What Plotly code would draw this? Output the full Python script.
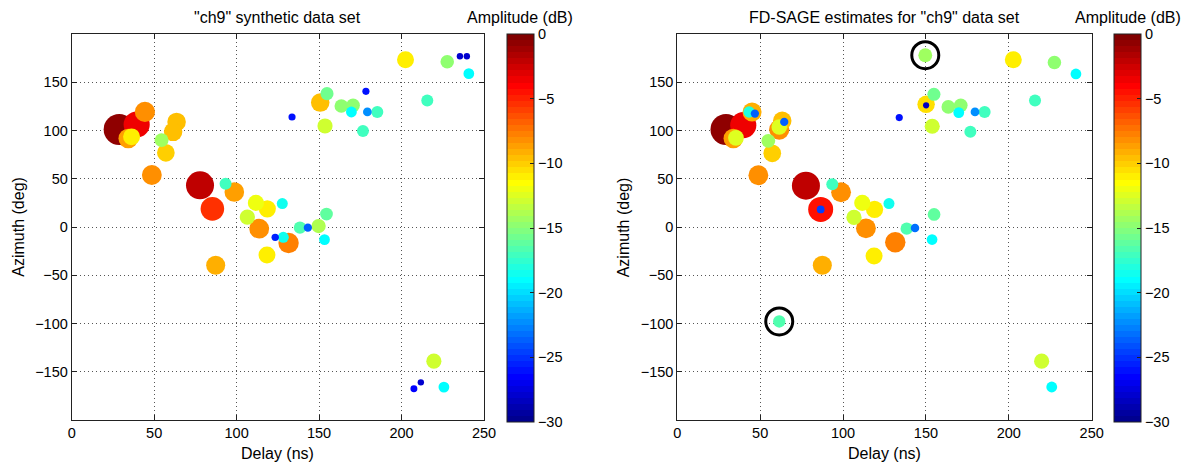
import numpy as np
import plotly.graph_objects as go

# ---------------- data ----------------
# "ch9" synthetic data set
syn_delay = [28.8, 39.4, 34.3, 36.3, 44.4, 63.6, 61.5, 54.5, 57.1, 48.6,
             77.8, 93.3, 98.6, 85.3, 111.7, 118.6, 127.7, 154.5, 106.5, 113.7,
             138.4, 143.2, 149.7, 123.4, 128.3, 131.5, 153.3, 118.4, 87.3, 219.6,
             211.7, 207.5, 225.7, 202.4, 227.7, 235.4, 239.6, 240.8, 215.6, 178.4,
             154.8, 150.7, 163.5, 170.6, 169.6, 179.3, 185.3, 133.6, 153.6, 176.6]
syn_az = [101, 106.2, 91.7, 93.4, 119.2, 108.9, 98.6, 90, 76.9, 53.9,
          43.2, 44.9, 36.3, 18.8, 25, 18.8, 24.3, 13.4, 10.3, -1.7,
          -0.7, -0.7, 1, -10.7, -10.7, -16.6, -13.1, -29, -39.7, -139,
          -161, -167.6, -165.9, 173.3, 171.2, 177, 177, 158.9, 131.2, 140.6,
          138.2, 128.9, 125.4, 126.1, 119.2, 119.2, 119.2, 114, 104.7, 99.6]
syn_amp = [-0.5, -3.5, -8.5, -11, -8, -9.5, -9.5, -14.5, -10.3, -8.3,
           -2.3, -17, -8.5, -5.3, -11.8, -10.8, -18.5, -16, -12.8, -8.3,
           -16.5, -23.5, -14, -25.5, -18.5, -7.8, -19, -11, -9, -13,
           -28, -26.5, -18.8, -11, -15, -28, -28, -19, -17, -26,
           -15.5, -9.5, -14.8, -14.8, -18.8, -22.5, -17, -26, -13, -17]

# FD-SAGE estimates
est_delay = [29.4, 39.8, 33.8, 35.4, 45.1, 43.3, 46.8, 63.3, 61.5, 61.5,
             64.5, 54.9, 57.3, 48.9, 77.6, 93.5, 98.8, 86.5, 86.5, 111.6,
             119, 127.7, 106.6, 113.8, 138.4, 143.4, 154.9, 153.7, 131.5, 118.7,
             87.5, 61.5, 219.8, 225.9, 202.7, 227.5, 240.5, 215.8, 149.6, 154.8,
             150.1, 150.1, 163.5, 171, 169.8, 179.6, 185.4, 133.9, 153.8, 176.8]
est_az = [101, 105.5, 91.7, 92.4, 119.2, 119.2, 117.5, 110, 101, 103.7,
          108.9, 89.3, 76.3, 53.6, 42.8, 44.2, 36, 18.2, 18.2, 25,
          18.2, 24.3, 9.9, -1.4, -1.7, -1, 13, -13, -15.8, -30.1,
          -39.7, -97.9, -139, -165.8, 173.3, 170.5, 158.6, 131.2, 178, 137.5,
          127.1, 126.1, 124.4, 126.1, 118.6, 119.2, 119.2, 113.4, 104.4, 98.6]
est_amp = [-0.5, -3.5, -8.5, -12.3, -9, -18, -23.5, -9.5, -8, -12.5,
           -23.5, -14.5, -10.3, -8.3, -2.3, -17, -8.3, -4.3, -24.5, -11.8,
           -10.8, -18.5, -12.8, -8.3, -16.5, -23, -16, -19, -7.8, -11,
           -9, -16.5, -13, -18.8, -11, -15, -19, -17, -14.5, -15.5,
           -10.5, -28.5, -14.8, -14.8, -18.8, -22.5, -17, -26, -13, -17]

# indices of estimates highlighted with black rings
circled_idx = [38, 31]

x_ticks = [0, 50, 100, 150, 200, 250]
y_ticks = [-150, -100, -50, 0, 50, 100, 150]
cb_ticks = [0, -5, -10, -15, -20, -25, -30]

titles = ['"ch9" synthetic data set', 'FD-SAGE estimates for "ch9" data set']
x_label = "Delay (ns)"
y_label = "Azimuth (deg)"
cb_label = "Amplitude (dB)"

# ---------------- style helpers ----------------
W, H = 1192, 468
FONT = "Liberation Sans, Arial, sans-serif"


def matlab_jet(m=64):
    n = int(np.ceil(m / 4))
    u = np.concatenate([np.arange(1, n + 1) / n, np.ones(n - 1), np.arange(n, 0, -1) / n])
    g = int(np.ceil(n / 2)) - (1 if m % 4 == 1 else 0) + np.arange(1, len(u) + 1)
    r = g + n
    b = g - n
    J = np.zeros((m, 3))
    for idx, val in zip(r, u):
        if idx <= m:
            J[idx - 1, 0] = val
    for idx, val in zip(g, u):
        if 1 <= idx <= m:
            J[idx - 1, 1] = val
    for idx, val in zip(b, u):
        if idx >= 1:
            J[idx - 1, 2] = val
    return J


J = matlab_jet(64)
jet_scale = []
for k in range(64):
    c = "rgb(%d,%d,%d)" % tuple(int(round(v * 255)) for v in J[k])
    jet_scale.append([k / 64, c])
    jet_scale.append([(k + 1) / 64, c])


def size_of(a):
    return [32 * 10 ** (v / 40) for v in a]


def ordered(d, az, amp):
    order = np.argsort(-np.array(amp), kind="stable")
    return ([d[i] for i in order], [az[i] for i in order], [amp[i] for i in order])


def px2x(px):
    return px / W


def px2y(py):
    return (H - py) / H


fig = go.Figure()

d, a, m = ordered(syn_delay, syn_az, syn_amp)
fig.add_trace(go.Scatter(x=d, y=a, mode="markers", xaxis="x", yaxis="y",
                         marker=dict(size=size_of(m), color=m, coloraxis="coloraxis",
                                     line=dict(width=0), opacity=1),
                         showlegend=False, hoverinfo="x+y"))

d, a, m = ordered(est_delay, est_az, est_amp)
fig.add_trace(go.Scatter(x=d, y=a, mode="markers", xaxis="x2", yaxis="y2",
                         marker=dict(size=size_of(m), color=m, coloraxis="coloraxis2",
                                     line=dict(width=0), opacity=1),
                         showlegend=False, hoverinfo="x+y"))

fig.add_trace(go.Scatter(x=[est_delay[i] for i in circled_idx],
                         y=[est_az[i] for i in circled_idx],
                         mode="markers", xaxis="x2", yaxis="y2",
                         marker=dict(symbol="circle-open", size=27, color="black",
                                     line=dict(width=3, color="black")),
                         showlegend=False, hoverinfo="skip"))

y_dom = [px2y(420), px2y(34)]
left_dom = [px2x(71.7), px2x(484)]
right_dom = [px2x(677.3), px2x(1091.7)]

axis_common = dict(showline=True, linecolor="#222", linewidth=1, mirror="ticks",
                   ticks="inside", ticklen=5, tickcolor="#222", tickwidth=1,
                   showgrid=True, gridcolor="#555", gridwidth=1, griddash="1px,3px",
                   zeroline=False, automargin=False,
                   tickfont=dict(family=FONT, size=14.5, color="black"))

x_common = dict(axis_common, range=[0, 250], tickvals=x_ticks)
y_common = dict(axis_common, range=[-200, 200], tickvals=y_ticks)

cb_common = dict(thickness=27.3, thicknessmode="pixels", len=388 / H, lenmode="fraction",
                 y=px2y(228), yanchor="middle", xanchor="left", xpad=0, ypad=0,
                 outlinewidth=1, outlinecolor="#222", ticks="inside", ticklen=4,
                 tickcolor="#222", tickvals=cb_ticks,
                 tickfont=dict(family=FONT, size=14.5, color="black"))

fig.update_layout(
    width=W, height=H, template="none",
    paper_bgcolor="white", plot_bgcolor="white",
    margin=dict(l=0, r=0, t=0, b=0, pad=0),
    font=dict(family=FONT, size=14.5, color="black"),
    xaxis=dict(x_common, domain=left_dom, anchor="y"),
    yaxis=dict(y_common, domain=y_dom, anchor="x"),
    xaxis2=dict(x_common, domain=right_dom, anchor="y2"),
    yaxis2=dict(y_common, domain=y_dom, anchor="x2"),
    coloraxis=dict(colorscale=jet_scale, cmin=-30, cmax=0,
                   colorbar=dict(cb_common, x=px2x(506.7))),
    coloraxis2=dict(colorscale=jet_scale, cmin=-30, cmax=0,
                    colorbar=dict(cb_common, x=px2x(1114))),
    showlegend=False,
)

ann = []
text_font = dict(family=FONT, size=16, color="black")
for dom, title, cbx in [(left_dom, titles[0], 520.3), (right_dom, titles[1], 1128.3)]:
    cx = (dom[0] + dom[1]) / 2
    ann.append(dict(text=title, x=cx, y=px2y(18), xref="paper", yref="paper",
                    xanchor="center", yanchor="middle", showarrow=False, font=text_font))
    ann.append(dict(text=x_label, x=cx, y=px2y(453), xref="paper", yref="paper",
                    xanchor="center", yanchor="middle", showarrow=False, font=text_font))
    ann.append(dict(text=cb_label, x=px2x(cbx), y=px2y(18), xref="paper", yref="paper",
                    xanchor="center", yanchor="middle", showarrow=False, font=text_font))
    ann.append(dict(text=y_label, x=dom[0] - px2x(54), y=px2y(227), xref="paper", yref="paper",
                    xanchor="center", yanchor="middle", textangle=-90, showarrow=False,
                    font=text_font))
fig.update_layout(annotations=ann)

fig.write_html("out.html")
